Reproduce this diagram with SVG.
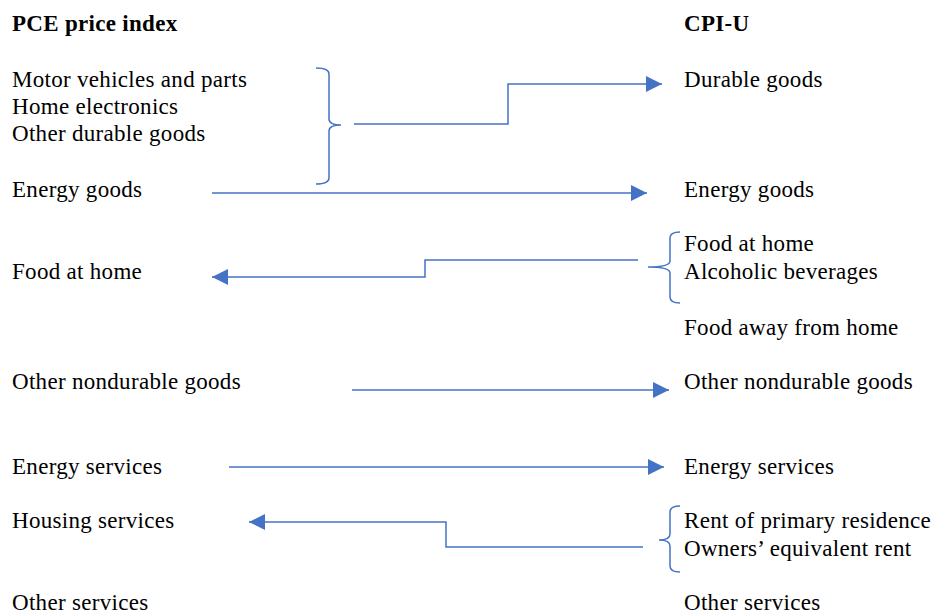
<svg xmlns="http://www.w3.org/2000/svg" width="934" height="616" viewBox="0 0 934 616">
<style>
text{font-family:"Liberation Serif","Times New Roman",serif;font-size:23px;letter-spacing:0.3px;fill:#000}
.h{font-weight:bold}
.c{fill:none;stroke:#4472C4;stroke-width:1.5}
</style>
<defs>
<marker id="a" markerUnits="userSpaceOnUse" markerWidth="18" markerHeight="16" refX="16" refY="8" orient="auto">
<path d="M0,0 L16,8 L0,16 Z" fill="#4472C4"/>
</marker>
</defs>
<rect width="934" height="616" fill="#fff"/>
<g id="left">
<text class="h" x="12" y="31">PCE price index</text>
<text x="12" y="87">Motor vehicles and parts</text>
<text x="12" y="114">Home electronics</text>
<text x="12" y="141">Other durable goods</text>
<text x="12" y="197">Energy goods</text>
<text x="12" y="279">Food at home</text>
<text x="12" y="389">Other nondurable goods</text>
<text x="12" y="474">Energy services</text>
<text x="12" y="528">Housing services</text>
<text x="12" y="610">Other services</text>
</g>
<g id="right">
<text class="h" x="684" y="31">CPI-U</text>
<text x="684" y="87">Durable goods</text>
<text x="684" y="197">Energy goods</text>
<text x="684" y="251">Food at home</text>
<text x="684" y="279">Alcoholic beverages</text>
<text x="684" y="335">Food away from home</text>
<text x="684" y="389">Other nondurable goods</text>
<text x="684" y="474">Energy services</text>
<text x="684" y="528">Rent of primary residence</text>
<text x="684" y="556">Owners’ equivalent rent</text>
<text x="684" y="610">Other services</text>
</g>
<g id="connectors">
<path class="c" d="M316,68 Q329,68 329,74 L329,119 Q329,125 341,125 Q329,125 329,131 L329,178 Q329,184 316,184"/>
<path class="c" d="M354,124 L508,124 L508,84 L662,84" marker-end="url(#a)"/>
<path class="c" d="M212,193 L647,193" marker-end="url(#a)"/>
<path class="c" d="M680,232 Q670,232 670,238 L670,261 Q670,267 648,267 Q670,267 670,273 L670,297 Q670,303 680,303"/>
<path class="c" d="M638,260 L425,260 L425,277 L212,277" marker-end="url(#a)"/>
<path class="c" d="M352,390 L669,390" marker-end="url(#a)"/>
<path class="c" d="M229,467 L664,467" marker-end="url(#a)"/>
<path class="c" d="M680,506 Q670,506 670,512 L670,534 Q670,540 659,540 Q670,540 670,546 L670,566 Q670,572 680,572"/>
<path class="c" d="M643,547 L446,547 L446,522 L249,522" marker-end="url(#a)"/>
</g>
</svg>
